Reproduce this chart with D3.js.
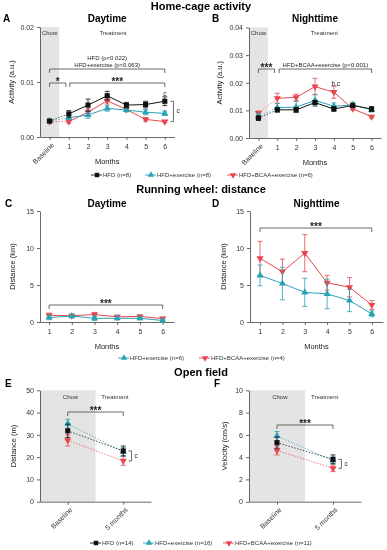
<!DOCTYPE html>
<html>
<head>
<meta charset="utf-8">
<script src="https://d3js.org/d3.v7.min.js"></script>
<style>
  body { margin: 0; background: #fff; }
  svg { font-family: "Liberation Sans", Arial, sans-serif; will-change: transform; -webkit-font-smoothing: antialiased; }
  .axis path, .axis line { stroke: #444; stroke-width: 0.8; }
  .axis text { fill: #333; font-size: 7px; }
</style>
</head>
<body>
<svg id="chart" width="387" height="550"></svg>
<script>
// ---- data ----
var activityLabels = ["Baseline", "1", "2", "3", "4", "5", "6"];
var wheelMonths = [1, 2, 3, 4, 5, 6];
var openFieldLabels = ["Baseline", "5 months"];

// home-cage activity, daytime (a.u.)
var dayHfd      = [0.0029, 0.0042, 0.0058, 0.0075, 0.0058, 0.0059, 0.0065];
var dayHfdErr   = [0.0003, 0.0006, 0.0011, 0.0008, 0.0005, 0.0006, 0.0008];
var dayEx       = [0.0029, 0.0035, 0.0040, 0.0052, 0.0049, 0.0045, 0.0043];
var dayExErr    = [0.0003, 0.0004, 0.0006, 0.0005, 0.0003, 0.0005, 0.0004];
var dayBcaa     = [0.0028, 0.0028, 0.0045, 0.0066, 0.0050, 0.0032, 0.0028];
var dayBcaaErr  = [0.0002, 0.0003, 0.0006, 0.0006, 0.0004, 0.0003, 0.0002];

// home-cage activity, nighttime (a.u.)
var nightHfd     = [0.0072, 0.0102, 0.0102, 0.0128, 0.0105, 0.0118, 0.0105];
var nightHfdErr  = [0.0008, 0.0008, 0.0008, 0.0008, 0.0008, 0.0006, 0.0008];
var nightEx      = [0.0078, 0.0110, 0.0112, 0.0136, 0.0115, 0.0120, 0.0102];
var nightExErr   = [0.0010, 0.0015, 0.0020, 0.0022, 0.0012, 0.0010, 0.0008];
var nightBcaa    = [0.0090, 0.0144, 0.0147, 0.0186, 0.0166, 0.0106, 0.0077];
var nightBcaaErr = [0.0008, 0.0018, 0.0012, 0.0030, 0.0022, 0.0005, 0.0005];

// running wheel distance (km)
var wheelDayEx        = [0.6, 0.8, 0.5, 0.5, 0.5, 0.2];
var wheelDayExErr     = [0.3, 0.2, 0.3, 0.2, 0.2, 0.2];
var wheelDayBcaa      = [0.9, 0.85, 1.0, 0.7, 0.75, 0.45];
var wheelDayBcaaErr   = [0.3, 0.2, 0.3, 0.2, 0.2, 0.2];
var wheelNightEx      = [6.3, 5.2, 4.0, 3.8, 2.9, 1.1];
var wheelNightExErr   = [1.4, 2.2, 1.9, 2.0, 1.5, 0.4];
var wheelNightBcaa    = [8.6, 6.8, 9.3, 5.3, 4.7, 2.3];
var wheelNightBcaaErr = [2.3, 1.7, 2.5, 1.0, 1.3, 0.6];

// open field
var distHfd  = [31.8, 22.8], distHfdErr  = [3.0, 2.2];
var distEx   = [35.0, 22.4], distExErr   = [2.0, 2.0];
var distBcaa = [27.5, 18.3], distBcaaErr = [2.5, 2.0];
var velHfd   = [5.3, 3.8],   velHfdErr   = [0.5, 0.4];
var velEx    = [5.9, 3.7],   velExErr    = [0.4, 0.3];
var velBcaa  = [4.6, 3.0],   velBcaaErr  = [0.4, 0.3];

var colors = { hfd: "#111111", ex: "#2aa2b6", bcaa: "#e8464e" };

var svg = d3.select("#chart");

function shapePath(shape, size) {
    var t = shape === "square" ? d3.symbolSquare : d3.symbolTriangle;
    return d3.symbol().type(t).size(size)();
}

function drawMarker(g, px, py, shape, color, size) {
    g.append("path")
        .attr("d", shapePath(shape, size))
        .attr("transform", "translate(" + px + "," + py + ")" + (shape === "down" ? " rotate(180)" : ""))
        .attr("fill", color);
}

function bracket(g, x1, x2, y, label, big) {
    g.append("path")
        .attr("d", "M" + x1 + "," + (y + 4) + "V" + y + "H" + x2 + "V" + (y + 4))
        .attr("fill", "none").attr("stroke", "#444").attr("stroke-width", 0.8);
    if (label) {
        g.append("text").attr("x", (x1 + x2) / 2).attr("y", big ? y + 2 : y - 2)
            .attr("text-anchor", "middle")
            .style("font-size", big ? "10px" : "6px")
            .style("font-weight", big ? "bold" : "normal")
            .attr("fill", "#222").text(label);
    }
}

function sideBracket(g, x, y1, y2, label) {
    g.append("path")
        .attr("d", "M" + (x - 3) + "," + y1 + "H" + x + "V" + y2 + "H" + (x - 3))
        .attr("fill", "none").attr("stroke", "#444").attr("stroke-width", 0.8);
    g.append("text").attr("x", x + 3).attr("y", (y1 + y2) / 2 + 2)
        .style("font-size", "6.5px").attr("fill", "#222").text(label);
}

function panel(opt) {
    var g = svg.append("g");
    var x = opt.x, y = opt.y;
    var x0 = x.range()[0], yb = y.range()[0], yt = y.range()[1];

    if (opt.band) {
        g.append("rect")
            .attr("x", x(opt.band[0])).attr("width", x(opt.band[1]) - x(opt.band[0]))
            .attr("y", yt).attr("height", yb - yt)
            .attr("fill", "#e4e4e4");
    }

    g.append("g").attr("class", "axis")
        .attr("transform", "translate(" + x0 + ",0)")
        .call(d3.axisLeft(y).tickValues(opt.yTicks).tickFormat(opt.yFmt)
            .tickSize(3).tickSizeOuter(0).tickPadding(3));

    var xa = g.append("g").attr("class", "axis")
        .attr("transform", "translate(0," + yb + ")")
        .call(d3.axisBottom(x).tickValues(opt.xTicks)
            .tickFormat(function(d) { return opt.xLabel(d); })
            .tickSize(3).tickSizeOuter(0).tickPadding(4));
    xa.selectAll(".tick text")
        .filter(function(d) { return opt.xLabel(d).length > 2; })
        .attr("x", 0).attr("y", 0).attr("dy", "0.3em")
        .attr("text-anchor", "end")
        .attr("transform", "translate(3,7) rotate(-45)");

    g.append("text")
        .attr("transform", "translate(" + opt.yLabelX + "," + (yb + yt) / 2 + ") rotate(-90)")
        .attr("text-anchor", "middle").style("font-size", "7.5px").attr("fill", "#222")
        .text(opt.yTitle);
    if (opt.xTitle) {
        g.append("text").attr("x", (x.range()[0] + x.range()[1]) / 2).attr("y", yb + 27)
            .attr("text-anchor", "middle").style("font-size", "7.5px").attr("fill", "#222")
            .text(opt.xTitle);
    }

    g.append("text").attr("x", opt.letterX).attr("y", opt.titleY)
        .style("font-size", "10px").style("font-weight", "bold").text(opt.letter);
    if (opt.title) {
        g.append("text").attr("x", (x.range()[0] + x.range()[1]) / 2).attr("y", opt.titleY)
            .attr("text-anchor", "middle")
            .style("font-size", "10px").style("font-weight", "bold").text(opt.title);
    }

    var line = d3.line().x(function(d) { return x(d[0]); }).y(function(d) { return y(d[1]); });

    opt.series.forEach(function(s) {
        var pts = s.xs.map(function(v, i) { return [v, s.vals[i]]; });
        if (opt.mode === "dashedFirst") {
            g.append("path").attr("d", line(pts.slice(0, 2)))
                .attr("fill", "none").attr("stroke", s.color).attr("stroke-width", 0.9)
                .attr("stroke-dasharray", "1.5,1.5").attr("opacity", 0.75);
            g.append("path").attr("d", line(pts.slice(1)))
                .attr("fill", "none").attr("stroke", s.color).attr("stroke-width", 1);
        } else if (opt.mode === "dotted") {
            g.append("path").attr("d", line(pts))
                .attr("fill", "none").attr("stroke", s.color).attr("stroke-width", 0.9)
                .attr("stroke-dasharray", "1.5,1.5").attr("opacity", 0.8);
        } else {
            g.append("path").attr("d", line(pts))
                .attr("fill", "none").attr("stroke", s.color).attr("stroke-width", 1);
        }
        pts.forEach(function(p, i) {
            var px = x(p[0]), lo = y(p[1] - s.errs[i]), hi = y(p[1] + s.errs[i]);
            g.append("path")
                .attr("d", "M" + px + "," + lo + "V" + hi + "M" + (px - 2.5) + "," + hi + "H" + (px + 2.5) +
                    "M" + (px - 2.5) + "," + lo + "H" + (px + 2.5))
                .attr("stroke", s.color).attr("stroke-width", 0.8).attr("fill", "none");
        });
        pts.forEach(function(p) {
            drawMarker(g, x(p[0]), y(p[1]), s.shape, s.color, s.shape === "square" ? 26 : 22);
        });
    });

    if (opt.notes) opt.notes(g, x, y);
}

function bandLabels(g, x, y, chowX, treatX, py) {
    g.append("text").attr("x", x(chowX)).attr("y", py).attr("text-anchor", "middle")
        .style("font-size", "6px").attr("fill", "#333").text("Chow");
    g.append("text").attr("x", x(treatX)).attr("y", py).attr("text-anchor", "middle")
        .style("font-size", "6px").attr("fill", "#333").text("Treatment");
}

function legend(py, items) {
    var g = svg.append("g");
    items.forEach(function(it) {
        g.append("line").attr("x1", it.x - 6).attr("x2", it.x + 5).attr("y1", py).attr("y2", py)
            .attr("stroke", it.color).attr("stroke-width", 0.9);
        drawMarker(g, it.x, py, it.shape, it.color, it.shape === "square" ? 20 : 18);
        g.append("text").attr("x", it.x + 6).attr("y", py + 2)
            .style("font-size", "6px").attr("fill", "#333").text(it.text);
    });
}

function sectionTitle(text, py) {
    svg.append("text").attr("x", 201).attr("y", py).attr("text-anchor", "middle")
        .style("font-size", "11px").style("font-weight", "bold").text(text);
}

var idx = d3.range(activityLabels.length);
var lab = function(d) { return activityLabels[d]; };
var num = function(d) { return String(d); };
var ofLab = function(d) { return openFieldLabels[d]; };
var fmt2 = d3.format(".2f");

// ---- Home-cage activity ----
sectionTitle("Home-cage activity", 10);

panel({
    x: d3.scaleLinear().domain([-0.5, 6.5]).range([40, 174.4]),
    y: d3.scaleLinear().domain([0, 0.02]).range([137, 27]),
    yTicks: [0, 0.01, 0.02], yFmt: fmt2,
    xTicks: idx, xLabel: lab, band: [-0.5, 0.5],
    yTitle: "Activity (a.u.)", yLabelX: 14, xTitle: "Months",
    letter: "A", letterX: 3, title: "Daytime", titleY: 22,
    mode: "dashedFirst",
    series: [
        { xs: idx, vals: dayBcaa, errs: dayBcaaErr, color: colors.bcaa, shape: "down" },
        { xs: idx, vals: dayEx, errs: dayExErr, color: colors.ex, shape: "up" },
        { xs: idx, vals: dayHfd, errs: dayHfdErr, color: colors.hfd, shape: "square" }
    ],
    notes: function(g, x, y) {
        bandLabels(g, x, y, 0, 3.3, 35);
        g.append("text").attr("x", x(3)).attr("y", 60).attr("text-anchor", "middle")
            .style("font-size", "6px").attr("fill", "#222").text("HFD (p<0.022)");
        bracket(g, x(0), x(6), 69, "HFD+exercise (p<0.063)", false);
        bracket(g, x(0), x(0.85), 83, "*", true);
        bracket(g, x(1.05), x(6), 83, "***", true);
        g.append("text").attr("x", x(6)).attr("y", 96).attr("text-anchor", "middle")
            .style("font-size", "6.5px").attr("fill", "#222").text("c");
        sideBracket(g, x(6.45), y(dayHfd[6]), y(dayBcaa[6]), "c");
    }
});

panel({
    x: d3.scaleLinear().domain([-0.5, 6.5]).range([249, 381]),
    y: d3.scaleLinear().domain([0, 0.04]).range([138, 27.5]),
    yTicks: [0, 0.01, 0.02, 0.03, 0.04], yFmt: fmt2,
    xTicks: idx, xLabel: lab, band: [-0.5, 0.5],
    yTitle: "Activity (a.u.)", yLabelX: 222, xTitle: "Months",
    letter: "B", letterX: 212, title: "Nighttime", titleY: 22,
    mode: "dashedFirst",
    series: [
        { xs: idx, vals: nightBcaa, errs: nightBcaaErr, color: colors.bcaa, shape: "down" },
        { xs: idx, vals: nightEx, errs: nightExErr, color: colors.ex, shape: "up" },
        { xs: idx, vals: nightHfd, errs: nightHfdErr, color: colors.hfd, shape: "square" }
    ],
    notes: function(g, x, y) {
        bandLabels(g, x, y, 0, 3.5, 35);
        bracket(g, x(0), x(0.85), 69, "***", true);
        bracket(g, x(1.1), x(6), 69, "HFD+BCAA+exercise (p<0.001)", false);
        g.append("text").attr("x", x(4.1)).attr("y", 86).attr("text-anchor", "middle")
            .style("font-size", "6.5px").attr("fill", "#222").text("b,c");
    }
});

legend(175, [
    { x: 97, color: colors.hfd, shape: "square", text: "HFD (n=8)" },
    { x: 151, color: colors.ex, shape: "up", text: "HFD+exercise (n=8)" },
    { x: 233, color: colors.bcaa, shape: "down", text: "HFD+BCAA+exercise (n=6)" }
]);

// ---- Running wheel ----
sectionTitle("Running wheel: distance", 193);

panel({
    x: d3.scaleLinear().domain([0.6, 6.5]).range([40, 174]),
    y: d3.scaleLinear().domain([0, 15]).range([322, 211]),
    yTicks: [0, 5, 10, 15], yFmt: d3.format("d"),
    xTicks: wheelMonths, xLabel: num,
    yTitle: "Distance (km)", yLabelX: 15, xTitle: "Months",
    letter: "C", letterX: 5, title: "Daytime", titleY: 207,
    mode: "solid",
    series: [
        { xs: wheelMonths, vals: wheelDayBcaa, errs: wheelDayBcaaErr, color: colors.bcaa, shape: "down" },
        { xs: wheelMonths, vals: wheelDayEx, errs: wheelDayExErr, color: colors.ex, shape: "up" }
    ],
    notes: function(g, x, y) {
        bracket(g, x(1), x(6), 305, "***", true);
    }
});

panel({
    x: d3.scaleLinear().domain([0.55, 6.5]).range([250, 383]),
    y: d3.scaleLinear().domain([0, 15]).range([322, 211]),
    yTicks: [0, 5, 10, 15], yFmt: d3.format("d"),
    xTicks: wheelMonths, xLabel: num,
    yTitle: "Distance (km)", yLabelX: 226, xTitle: "Months",
    letter: "D", letterX: 212, title: "Nighttime", titleY: 207,
    mode: "solid",
    series: [
        { xs: wheelMonths, vals: wheelNightBcaa, errs: wheelNightBcaaErr, color: colors.bcaa, shape: "down" },
        { xs: wheelMonths, vals: wheelNightEx, errs: wheelNightExErr, color: colors.ex, shape: "up" }
    ],
    notes: function(g, x, y) {
        bracket(g, x(1), x(6), 228, "***", true);
    }
});

legend(358, [
    { x: 124, color: colors.ex, shape: "up", text: "HFD+exercise (n=6)" },
    { x: 205, color: colors.bcaa, shape: "down", text: "HFD+BCAA+exercise (n=4)" }
]);

// ---- Open field ----
sectionTitle("Open field", 376);
var ofIdx = [0, 1];

panel({
    x: d3.scaleLinear().domain([-0.5, 1.5]).range([40, 151]),
    y: d3.scaleLinear().domain([0, 50]).range([501.7, 390.3]),
    yTicks: [0, 10, 20, 30, 40, 50], yFmt: d3.format("d"),
    xTicks: ofIdx, xLabel: ofLab, band: [-0.5, 0.5],
    yTitle: "Distance (m)", yLabelX: 16,
    letter: "E", letterX: 5, titleY: 387,
    mode: "dotted",
    series: [
        { xs: ofIdx, vals: distBcaa, errs: distBcaaErr, color: colors.bcaa, shape: "down" },
        { xs: ofIdx, vals: distEx, errs: distExErr, color: colors.ex, shape: "up" },
        { xs: ofIdx, vals: distHfd, errs: distHfdErr, color: colors.hfd, shape: "square" }
    ],
    notes: function(g, x, y) {
        bandLabels(g, x, y, 0.05, 0.85, 399);
        bracket(g, x(0), x(1), 412, "***", true);
        sideBracket(g, x(1.15), y(distHfd[1]), y(distBcaa[1]), "c");
    }
});

panel({
    x: d3.scaleLinear().domain([-0.5, 1.5]).range([249, 361]),
    y: d3.scaleLinear().domain([0, 10]).range([501.7, 390.3]),
    yTicks: [0, 2, 4, 6, 8, 10], yFmt: d3.format("d"),
    xTicks: ofIdx, xLabel: ofLab, band: [-0.5, 0.5],
    yTitle: "Velocity (cm/s)", yLabelX: 227,
    letter: "F", letterX: 214, titleY: 387,
    mode: "dotted",
    series: [
        { xs: ofIdx, vals: velBcaa, errs: velBcaaErr, color: colors.bcaa, shape: "down" },
        { xs: ofIdx, vals: velEx, errs: velExErr, color: colors.ex, shape: "up" },
        { xs: ofIdx, vals: velHfd, errs: velHfdErr, color: colors.hfd, shape: "square" }
    ],
    notes: function(g, x, y) {
        bandLabels(g, x, y, 0.05, 0.85, 399);
        bracket(g, x(0), x(1), 425, "***", true);
        sideBracket(g, x(1.15), y(velHfd[1]), y(velBcaa[1]), "c");
    }
});

legend(543, [
    { x: 96, color: colors.hfd, shape: "square", text: "HFD (n=14)" },
    { x: 149, color: colors.ex, shape: "up", text: "HFD+exercise (n=16)" },
    { x: 229, color: colors.bcaa, shape: "down", text: "HFD+BCAA+exercise (n=11)" }
]);
</script>
</body>
</html>
